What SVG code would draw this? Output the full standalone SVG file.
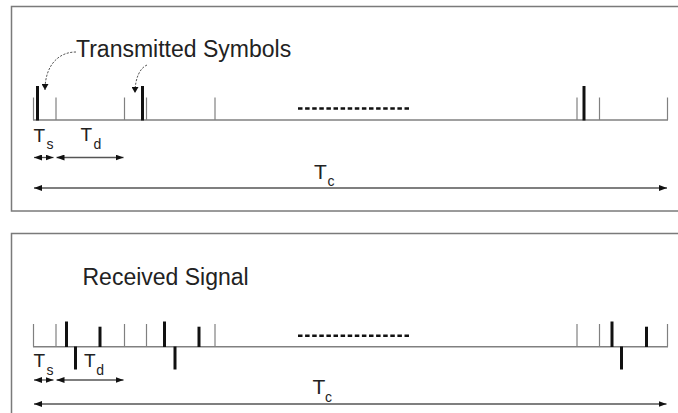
<svg xmlns="http://www.w3.org/2000/svg" width="678" height="413" viewBox="0 0 678 413">
<style>
.box{fill:none;stroke:#7a7a7a;stroke-width:1.5}
.base{stroke:#808080;stroke-width:1.5;fill:none}
.thin{stroke:#808080;stroke-width:1.2}
.thick{stroke:#111;stroke-width:3}
.dash{stroke:#111;stroke-width:2.5;stroke-dasharray:4.5 2.6}
.dim{stroke:#555;stroke-width:1.3;fill:none;marker-start:url(#ah);marker-end:url(#ah)}
.curve{stroke:#555;stroke-width:1;fill:none;stroke-dasharray:2.2 1.4;marker-end:url(#ch)}
text{font-family:"Liberation Sans",Arial,sans-serif;fill:#222}
.lab{font-size:23px}
.big{font-size:19px}
.tc{font-size:21px}
.sub{font-size:14px}
</style>
<defs>
<marker id="ah" viewBox="0 0 8 6" refX="8" refY="3" markerWidth="8" markerHeight="6" markerUnits="userSpaceOnUse" orient="auto-start-reverse"><path d="M0,0L8,3L0,6z" fill="#111"/></marker>
<marker id="ch" viewBox="0 0 6 7" refX="6" refY="3.5" markerWidth="6" markerHeight="7" markerUnits="userSpaceOnUse" orient="auto"><path d="M0,0L6,3.5L0,7z" fill="#111"/></marker>
</defs>

<g id="top-panel">
<rect class="box" x="11.5" y="6.5" width="700" height="204.5"/>
<text class="lab" x="76" y="57">Transmitted Symbols</text>
<line class="base" x1="33" y1="120" x2="668" y2="120"/>
<g id="top-ticks">
<line class="thin" x1="33.5" y1="97.5" x2="33.5" y2="120"/>
<line class="thin" x1="56" y1="97.5" x2="56" y2="120"/>
<line class="thin" x1="124.5" y1="97.5" x2="124.5" y2="120"/>
<line class="thin" x1="146.5" y1="97.5" x2="146.5" y2="120"/>
<line class="thin" x1="215" y1="97.5" x2="215" y2="120"/>
<line class="thin" x1="577" y1="97.5" x2="577" y2="120"/>
<line class="thin" x1="599.5" y1="97.5" x2="599.5" y2="120"/>
<line class="thin" x1="667.5" y1="97.5" x2="667.5" y2="120"/>
</g>
<g id="top-symbols">
<line class="thick" x1="37.5" y1="86" x2="37.5" y2="120.5"/>
<line class="thick" x1="142.5" y1="86" x2="142.5" y2="120.5"/>
<line class="thick" x1="584" y1="86" x2="584" y2="120.5"/>
</g>
<line class="dash" x1="298" y1="108.5" x2="409" y2="108.5"/>
<text class="big" x="33.5" y="141.7">T</text><text class="sub" x="46.5" y="149.3">s</text>
<text class="big" x="80.5" y="141">T</text><text class="sub" x="93.5" y="149">d</text>
<text class="tc" x="314" y="178.5">T</text><text class="sub" x="327.5" y="186">c</text>
</g>

<g id="bottom-panel">
<rect class="box" x="11.5" y="233.5" width="700" height="200"/>
<text class="lab" x="82.5" y="285">Received Signal</text>
<line class="base" x1="33" y1="346.7" x2="668" y2="346.7"/>
<g id="bottom-ticks">
<line class="thin" x1="33.5" y1="324" x2="33.5" y2="346.7"/>
<line class="thin" x1="56" y1="324" x2="56" y2="346.7"/>
<line class="thin" x1="124.5" y1="324" x2="124.5" y2="346.7"/>
<line class="thin" x1="146.5" y1="324" x2="146.5" y2="346.7"/>
<line class="thin" x1="215" y1="324" x2="215" y2="346.7"/>
<line class="thin" x1="577" y1="324" x2="577" y2="346.7"/>
<line class="thin" x1="599.5" y1="324" x2="599.5" y2="346.7"/>
<line class="thin" x1="667.5" y1="324" x2="667.5" y2="346.7"/>
</g>
<g id="bottom-pulses">
<line class="thick" x1="66.5" y1="321.5" x2="66.5" y2="347"/>
<line class="thick" x1="100" y1="326.7" x2="100" y2="347"/>
<line class="thick" x1="164.5" y1="321.5" x2="164.5" y2="347"/>
<line class="thick" x1="199" y1="326.7" x2="199" y2="347"/>
<line class="thick" x1="612" y1="321.5" x2="612" y2="347"/>
<line class="thick" x1="646.5" y1="326.7" x2="646.5" y2="347"/>
<line class="thick" x1="75.5" y1="346.5" x2="75.5" y2="369.5"/>
<line class="thick" x1="175" y1="346.5" x2="175" y2="369.5"/>
<line class="thick" x1="621.5" y1="346.5" x2="621.5" y2="369.5"/>
</g>
<line class="dash" x1="298" y1="335.7" x2="409" y2="335.7"/>
<text class="big" x="33.5" y="366.7">T</text><text class="sub" x="46.5" y="375">s</text>
<text class="big" x="84" y="366.7">T</text><text class="sub" x="96.2" y="375">d</text>
<text class="tc" x="312.5" y="394">T</text><text class="sub" x="325" y="401.7">c</text>
</g>

<g id="connectors">
<path class="curve" d="M76,52 C58,52 45,66 45,90"/>
<path class="curve" d="M147,65 C140,68 135,78 135,93"/>
<line class="dim" x1="34" y1="157.5" x2="53.5" y2="157.5"/>
<line class="dim" x1="56.5" y1="157.5" x2="123.5" y2="157.5"/>
<line class="dim" x1="34" y1="188" x2="667" y2="188"/>
<line class="dim" x1="34" y1="380" x2="53.5" y2="380"/>
<line class="dim" x1="56.5" y1="380" x2="123.5" y2="380"/>
<line class="dim" x1="34" y1="404" x2="666.5" y2="404"/>
</g>
</svg>
